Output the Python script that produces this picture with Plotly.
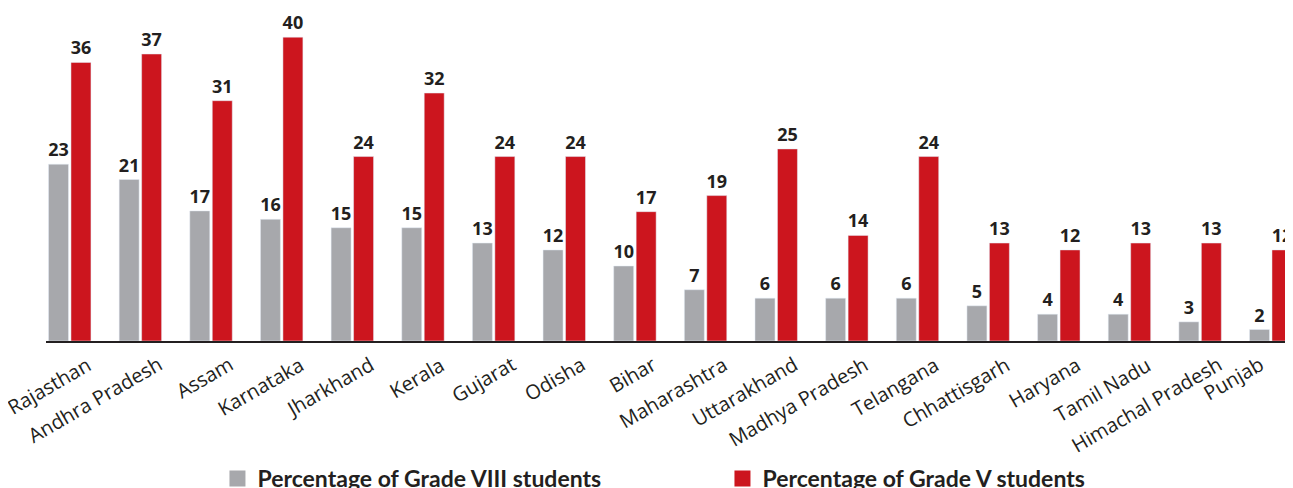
import plotly.graph_objects as go

states = ["Rajasthan", "Andhra Pradesh", "Assam", "Karnataka", "Jharkhand", "Kerala",
          "Gujarat", "Odisha", "Bihar", "Maharashtra", "Uttarakhand", "Madhya Pradesh",
          "Telangana", "Chhattisgarh", "Haryana", "Tamil Nadu", "Himachal Pradesh", "Punjab"]

# bar heights
grade8_values = [23.1, 21.1, 17.0, 15.9, 14.8, 14.8, 12.8, 11.9, 9.8, 6.7, 5.6, 5.6,
                 5.6, 4.6, 3.5, 3.5, 2.5, 1.5]
grade5_values = [36.4, 37.5, 31.4, 39.7, 24.1, 32.4, 24.1, 24.1, 16.9, 19.0, 25.1, 13.8,
                 24.1, 12.8, 11.9, 12.8, 12.8, 11.9]

# value labels as printed on the chart
grade8_labels = ["23", "21", "17", "16", "15", "15", "13", "12", "10", "7", "6", "6",
                 "6", "5", "4", "4", "3", "2"]
grade5_labels = ["36", "37", "31", "40", "24", "32", "24", "24", "17", "19", "25", "14",
                 "24", "13", "12", "13", "13", "12"]

series_names = ["Percentage of Grade VIII students", "Percentage of Grade V students"]

GREY = "#a7a8ac"
RED = "#cc151e"
DARK = "#231f20"

label_font = dict(family="Open Sans", size=18, color=DARK, weight="bold")

fig = go.Figure()
fig.add_trace(go.Bar(x=states, y=grade8_values, name=series_names[0], marker_color=GREY,
                     text=grade8_labels, textposition="outside", textfont=label_font,
                     constraintext="none", cliponaxis=False, showlegend=False,
                     hoverinfo="skip"))
fig.add_trace(go.Bar(x=states, y=grade5_values, name=series_names[1], marker_color=RED,
                     text=grade5_labels, textposition="outside", textfont=label_font,
                     constraintext="none", cliponaxis=False, showlegend=False,
                     hoverinfo="skip"))

# legend entries with larger square swatches
for nm, col in zip(series_names, [GREY, RED]):
    fig.add_trace(go.Scatter(x=[None], y=[None], mode="markers", name=nm,
                             marker=dict(symbol="square", size=18, color=col),
                             showlegend=True))

# rotated category labels below the axis (last one pulled in so it stays on the page)
for i, s in enumerate(states):
    fig.add_annotation(x=s, y=0, xref="x", yref="y", text=s, showarrow=False,
                       textangle=-30, xanchor="right", yanchor="top",
                       xshift=(29 if i < len(states) - 1 else 0), yshift=-7,
                       font=dict(family="Open Sans", size=20, color=DARK))

fig.update_layout(
    width=1285, height=492,
    margin=dict(l=38, r=0, t=2, b=157),
    paper_bgcolor="white", plot_bgcolor="white",
    barmode="group", bargap=0.364, bargroupgap=0.111,
    showlegend=True,
    legend=dict(orientation="h", x=0.1375, xanchor="left", y=-0.352, yanchor="top",
                font=dict(family="Lato", size=23, color=DARK, weight="bold"),
                entrywidth=460, entrywidthmode="pixels", itemclick=False,
                bgcolor="rgba(0,0,0,0)"),
    xaxis=dict(range=[-0.336, 17.315], showline=True, linecolor=DARK, linewidth=2,
               showgrid=False, zeroline=False, ticks="", showticklabels=False,
               automargin=False, fixedrange=True),
    yaxis=dict(range=[0, 43.25], visible=False, showgrid=False, zeroline=False,
               automargin=False, fixedrange=True),
)

fig.write_html("out.html")
